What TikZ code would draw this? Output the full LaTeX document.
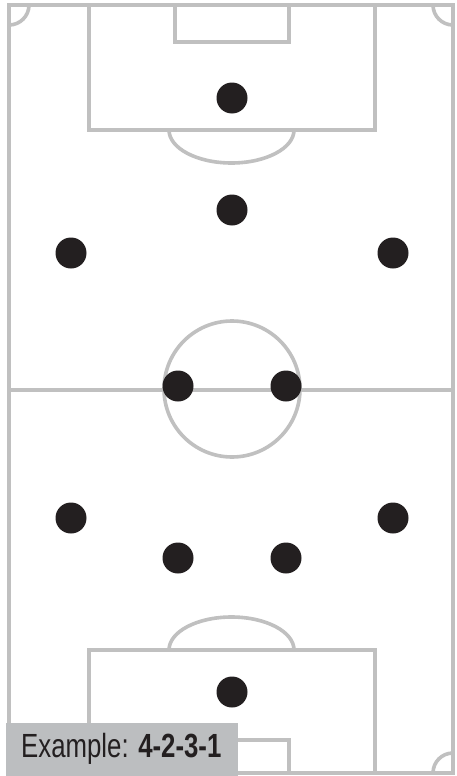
\documentclass[tikz,border=0pt]{standalone}
\usepackage{fontspec}
\setmainfont{Liberation Sans}[FakeStretch=0.77]
\usepackage{tikz}
\usetikzlibrary{positioning}

\definecolor{linegray}{RGB}{192,192,192}
\definecolor{labelgray}{RGB}{188,190,192}
\definecolor{dotblack}{RGB}{35,31,32}

\begin{document}
\begin{tikzpicture}[x=1pt, y=-1pt,
  pitchline/.style={draw=linegray, line width=3.6pt},
  player/.style={circle, fill=dotblack, minimum size=31pt, inner sep=0pt},
  caption/.style={anchor=base west, inner sep=0pt, text=dotblack, font=\fontsize{33.5}{36}\selectfont}]
\useasboundingbox[fill=white] (0,0) rectangle (457,776);
% pitch
\draw[pitchline] (9,5) rectangle (453,773);
\draw[pitchline] (9,390) -- (453,390);
\draw[pitchline] (232,389) circle[radius=68];
\begin{scope}
\clip (9,5) rectangle (453,773);
\draw[pitchline] (9,5) circle[radius=20];
\draw[pitchline] (453,5) circle[radius=20];
\draw[pitchline] (9,773) circle[radius=20];
\draw[pitchline] (453,773) circle[radius=20];
\end{scope}
% top end
\draw[pitchline] (89,5) rectangle (375,130);
\draw[pitchline] (175,5) rectangle (289,42);
\begin{scope}
\clip (0,130) rectangle (457,200);
\draw[pitchline] (231.5,130) ellipse[x radius=62.5, y radius=33];
\end{scope}
% bottom end
\draw[pitchline] (89,773) rectangle (375,650);
\draw[pitchline] (175,773) rectangle (289,740);
\begin{scope}
\clip (0,580) rectangle (457,650);
\draw[pitchline] (231.5,650) ellipse[x radius=62.5, y radius=33];
\end{scope}
% players
\node (gktop) [player] at (232,98) {};
\node (ctop) [player] at (232,210) {};
\node (ltop) [player] at (71,253) {};
\node (rtop) [player] at (393,253) {};
\node (lmid) [player] at (178,386) {};
\node (rmid) [player] at (286,386) {};
\node (lbot) [player] at (71,518) {};
\node (rbot) [player] at (393,518) {};
\node (clbot) [player] at (178,558) {};
\node (crbot) [player] at (286,558) {};
\node (gkbot) [player] at (232,692) {};
% label
\fill[labelgray] (6,723) rectangle (238,776);
\node (example) [caption] at (21,757) {Example: \textbf{4-2-3-1}};
\end{tikzpicture}
\end{document}
